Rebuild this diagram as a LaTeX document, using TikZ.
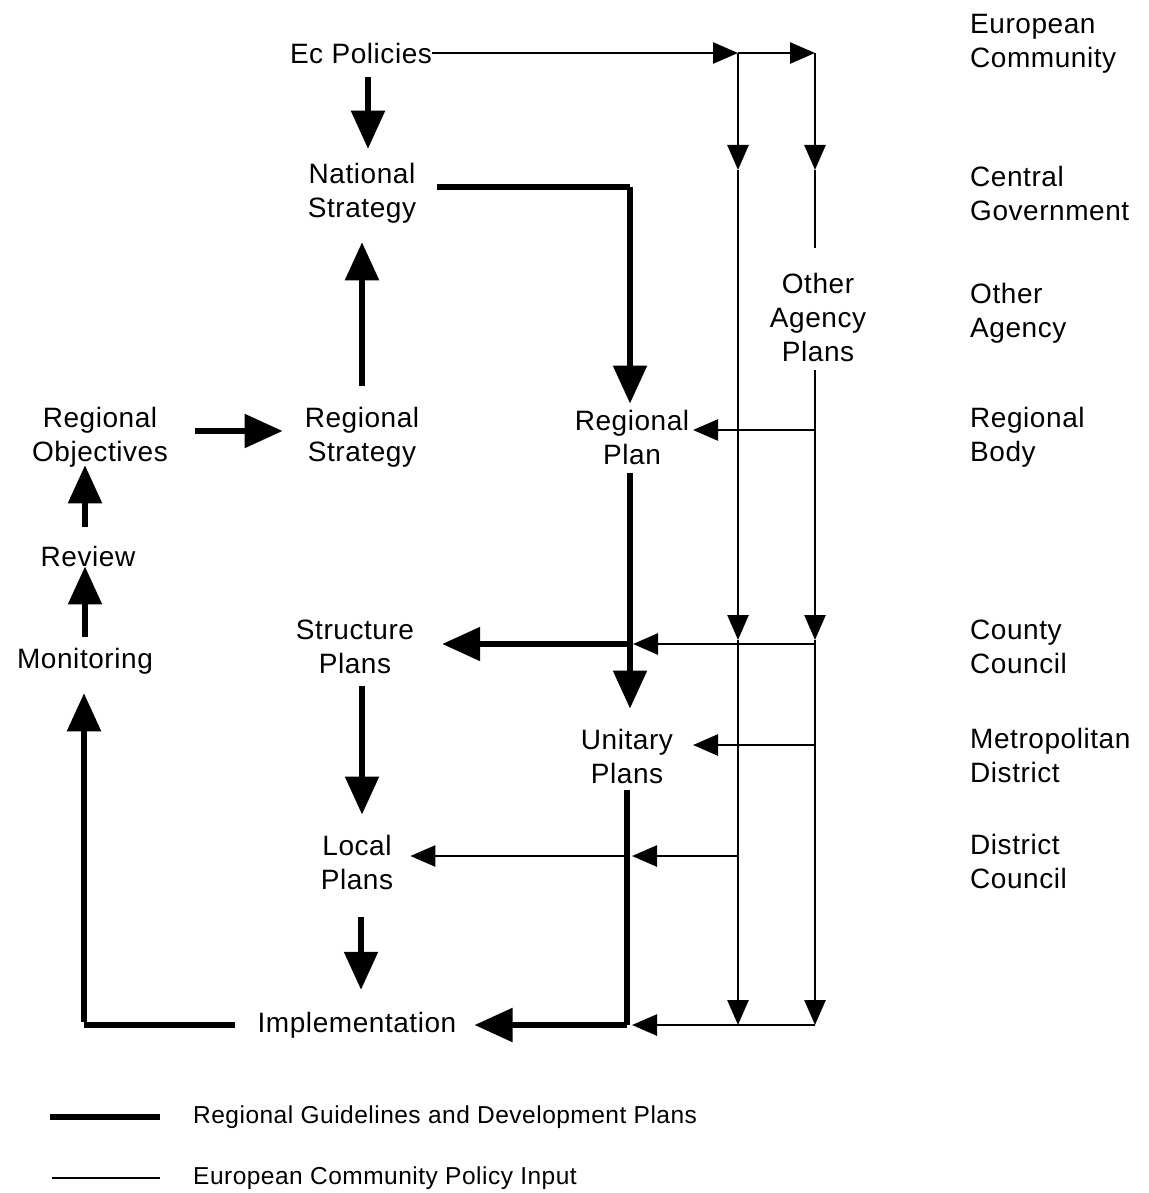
\documentclass[tikz,border=0pt]{standalone}
\usepackage{fontspec}
\setmainfont{Liberation Sans}[LetterSpace=2]
\usetikzlibrary{arrows.meta}
\begin{document}
\begin{tikzpicture}[x=1pt,y=-1pt,
  lbl/.style={inner sep=0pt,align=center,font=\fontsize{28}{34}\selectfont},
  side/.style={inner sep=0pt,align=left,anchor=west,font=\fontsize{28}{34}\selectfont},
  key/.style={inner sep=0pt,anchor=west,font=\fontsize{24.5}{28}\selectfont},
  heavy/.style={line width=5.5pt},
  light/.style={line width=2.6pt},
  heavyarrow/.style={heavy,-{Triangle[length=38pt,width=33pt]}},
  lightarrow/.style={light,-{Triangle[length=25pt,width=21pt]}}]
\useasboundingbox (0,0) rectangle (1148,1193);

% main text nodes
\node[lbl] (ecp)  at (361,53)   {Ec Policies};
\node[lbl] (nat)  at (362,193)  {National\\Strategy};
\node[lbl] (rstr) at (362,437)  {Regional\\Strategy};
\node[lbl] (robj) at (100,437)  {Regional\\Objectives};
\node[lbl] (rev)  at (88,556)   {Review};
\node[lbl] (mon)  at (85,661)   {Monitoring};
\node[lbl] (str)  at (355,647)  {Structure\\Plans};
\node[lbl] (loc)  at (357,862)  {Local\\Plans};
\node[lbl] (imp)  at (357,1025) {Implementation};
\node[lbl] (rpl)  at (632,437)  {Regional\\Plan};
\node[lbl] (uni)  at (627,756)  {Unitary\\Plans};
\node[lbl] (oap)  at (818,317)  {Other\\Agency\\Plans};

% tier labels
\node[side] (t1) at (970,44)  {European\\Community};
\node[side] (t2) at (970,193) {Central\\Government};
\node[side] (t3) at (970,313) {Other\\Agency};
\node[side] (t4) at (970,437) {Regional\\Body};
\node[side] (t5) at (970,647) {County\\Council};
\node[side] (t6) at (970,755) {Metropolitan\\District};
\node[side] (t7) at (970,861) {District\\Council};

% junction points of the policy input network
\coordinate (a0) at (738,53);   \coordinate (b0) at (815,53);
\coordinate (a1) at (738,170);  \coordinate (b1) at (815,170);
\coordinate (bt) at (815,248);  \coordinate (bs) at (815,370);
\coordinate (b2) at (815,430);  \coordinate (rp) at (693,430);
\coordinate (a3) at (738,640);  \coordinate (b3) at (815,640);
\coordinate (b3h) at (815,644); \coordinate (m3) at (630,644);
\coordinate (b4) at (815,745);  \coordinate (up) at (693,745);
\coordinate (a5) at (738,856);  \coordinate (m5) at (628,856);
\coordinate (a6) at (738,1025); \coordinate (b6) at (815,1025);
\coordinate (m6) at (627,1025);
\coordinate (nc) at (630,187);  \coordinate (lc) at (84,1025);

% European Community policy input (thin)
\draw[lightarrow] (ecp.east) -- (a0);
\draw[lightarrow] (a0) -- (b0);
\draw[lightarrow] (a0) -- (a1);
\draw[lightarrow] (a1) -- (a3);
\draw[lightarrow] (a3) -- (a6);
\draw[lightarrow] (b0) -- (b1);
\draw[light] (b1) -- (bt);
\draw[lightarrow] (bs) -- (b3);
\draw[lightarrow] (b3) -- (b6);
\draw[lightarrow] (b2) -- (rp);
\draw[lightarrow] (b3h) -- ([xshift=3pt]m3);
\draw[lightarrow] (b4) -- (up);
\draw[lightarrow] (a5) -- ([xshift=4pt]m5);
\draw[lightarrow] (m5) -- ([xshift=17pt]loc.east |- m5);
\draw[lightarrow] (b6) -- ([xshift=5pt]m6);

% regional guidelines and development plans (thick)
\draw[heavyarrow] ([yshift=-14pt]ecp.south -| 368,0) -- ([yshift=14pt]nat.north -| 368,0);
\draw[heavyarrow] ([yshift=21pt]rstr.north) -- ([yshift=-19pt]nat.south);
\draw[heavyarrow] ([xshift=27pt]robj.east |- 0,431) -- ([xshift=-22pt]rstr.west |- 0,431);
\draw[heavy] ([xshift=21pt]nat.east |- nc) -- (nc);
\draw[heavyarrow] (nc) -- ([yshift=6pt]rpl.north -| nc);
\draw[heavyarrow] ([yshift=-9pt]rpl.south -| nc) -- ([yshift=20pt]uni.north -| nc);
\draw[heavy] ([yshift=-7pt]uni.south) -- (m6);
\draw[heavyarrow] (m3) -- ([xshift=28pt]str.east |- m3);
\draw[heavyarrow] ([yshift=-12pt]str.south -| 362,0) -- ([yshift=20pt]loc.north -| 362,0);
\draw[heavyarrow] ([yshift=-28pt]loc.south -| 361,0) -- ([yshift=22pt]imp.north -| 361,0);
\draw[heavyarrow] (m6) -- ([xshift=18pt]imp.east);
\draw[heavy] ([xshift=-22pt]imp.west) -- (lc);
\draw[heavyarrow] ([yshift=2.75pt]lc) -- ([yshift=-19pt]mon.south -| lc);
\draw[heavyarrow] ([yshift=11pt]mon.north) -- (rev.south -| mon);
\draw[heavyarrow] ([yshift=19pt]rev.north -| mon) -- ([yshift=2pt]robj.south -| mon);

% legend
\coordinate (k1a) at (50,1117);  \coordinate (k1b) at (160,1117);
\coordinate (k2a) at (52,1178);  \coordinate (k2b) at (160,1178);
\draw[heavy] (k1a) -- (k1b);
\draw[light] (k2a) -- (k2b);
\node[key] (k1) at (193,1117) {Regional Guidelines and Development Plans};
\node[key] (k2) at (193,1178) {European Community Policy Input};
\end{tikzpicture}
\end{document}
